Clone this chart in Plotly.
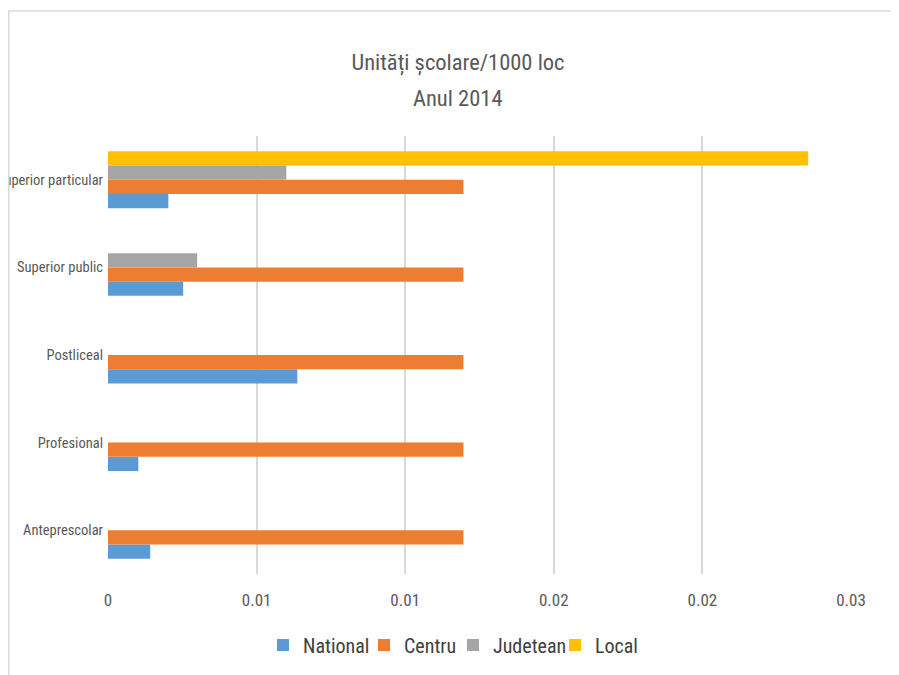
import plotly.graph_objects as go

categories = ["Antepre" + "scolar", "Profesional", "Postliceal", "Superior public", "Superior particular"]
national = [0.00142, 0.00102, 0.00637, 0.00253, 0.00203]
centru = [0.01196, 0.01196, 0.01196, 0.01196, 0.01196]
judetean = [None, None, None, 0.00300, 0.00600]
local = [None, None, None, None, 0.02356]

tick_vals = [0, 0.005, 0.01, 0.015, 0.02, 0.025]
tick_text = ["0", "0.01", "0.01", "0.02", "0.02", "0.03"]

title_line1 = "Unități școlare/1000 loc"
title_line2 = "Anul 2014"

series = [
    ("National", national, "#5B9BD5", 56),
    ("Centru", centru, "#ED7D31", 44),
    ("Judetean", judetean, "#A5A5A5", 57),
    ("Local", local, "#FFC000", 45),
]

FONT = "Roboto Condensed, DejaVu Sans Condensed, Roboto, sans-serif"
TXT = "#595959"

fig = go.Figure()
for name, vals, col, lw in series:
    fig.add_trace(go.Bar(y=categories, x=vals, name=name, orientation="h",
                         legendwidth=lw,
                         marker=dict(color=col, line=dict(width=0))))

# page shows the figure offset by 8px (body margin)
W, H = 891, 667
L, R, T, B = 100, 48, 128, 101
pw, ph = W - L - R, H - T - B

def px_x(p):
    return (p - L) / pw

def px_y(p):
    return (H - B - p) / ph

fig.update_layout(
    width=W, height=H,
    margin=dict(l=L, r=R, t=T, b=B, autoexpand=False),
    paper_bgcolor="white", plot_bgcolor="white",
    barmode="group", bargap=0.35, bargroupgap=0,
    font=dict(family=FONT, color=TXT),
    title=dict(text=title_line1, x=450 / W, xref="container",
               xanchor="center", y=1 - 54 / H, yref="container", yanchor="middle",
               font=dict(family=FONT, size=22.5, color=TXT)),
    xaxis=dict(range=[0, 0.025], tickvals=tick_vals, ticktext=tick_text, automargin=False,
               showgrid=True, gridcolor="#D9D9D9", gridwidth=1.5, zeroline=False,
               showline=False, ticks="", tickfont=dict(size=17, color=TXT),
               ticklabelstandoff=14),
    yaxis=dict(showgrid=False, zeroline=False, showline=False, ticks="", automargin=False,
               tickfont=dict(size=14.5, color=TXT), ticklabelstandoff=4),
    legend=dict(orientation="h", xref="container", x=255 / W, xanchor="left",
                yref="container", y=1 - 637 / H, yanchor="middle",
                font=dict(size=20, color="#404040"), itemwidth=30,
                traceorder="normal"),
    showlegend=True,
)

fig.add_annotation(text=title_line2, xref="paper", yref="paper",
                   x=px_x(450), y=px_y(90), xanchor="center", yanchor="middle",
                   showarrow=False, font=dict(family=FONT, size=22.5, color=TXT))

fig.add_shape(type="rect", xref="paper", yref="paper",
              x0=px_x(0.75), x1=px_x(1000), y0=px_y(800), y1=px_y(3),
              fillcolor="rgba(0,0,0,0)", line=dict(color="#D9D9D9", width=1.5), layer="above")

fig.write_html("out.html")
